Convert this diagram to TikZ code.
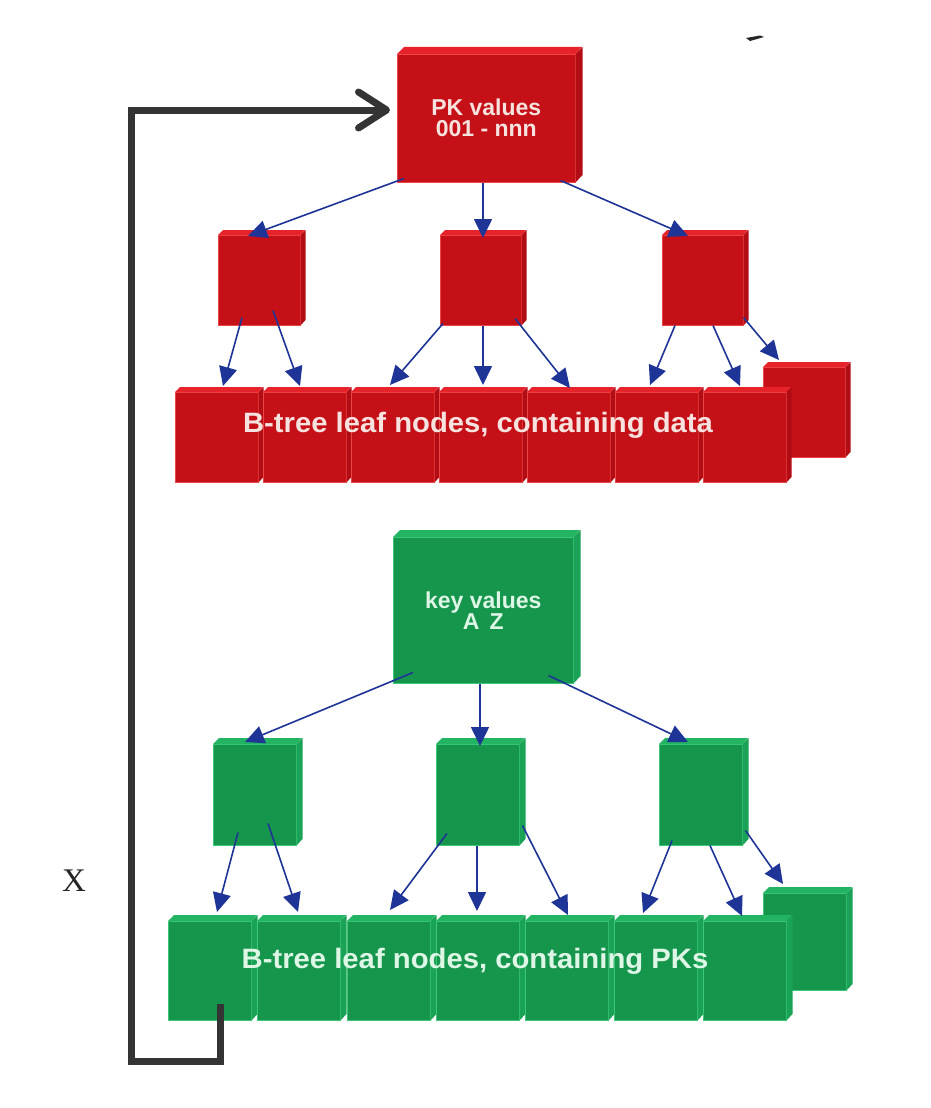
\documentclass[tikz,border=0pt]{standalone}
\usepackage{fontspec}
\setmainfont{Liberation Sans}
\newfontfamily\serifx{Liberation Serif}
\usetikzlibrary{arrows.meta}
\definecolor{redfront}{RGB}{198,16,24}
\definecolor{redtop}{RGB}{230,34,42}
\definecolor{redside}{RGB}{178,12,20}
\definecolor{redline}{RGB}{236,70,70}
\definecolor{redtxt}{RGB}{246,226,222}
\definecolor{greenfront}{RGB}{22,150,76}
\definecolor{greentop}{RGB}{34,180,98}
\definecolor{greenside}{RGB}{26,162,86}
\definecolor{greenline}{RGB}{60,200,120}
\definecolor{greentxt}{RGB}{222,246,230}
\definecolor{arrblue}{RGB}{30,52,150}
\definecolor{loopgray}{RGB}{52,52,52}
\tikzset{
  cube/.style={fill=#1front, draw=#1line, line width=0.5pt, inner sep=0pt,
    text=#1txt, font=\bfseries\fontsize{23}{21}\selectfont, align=center},
  arr/.style={draw=arrblue, line width=1.6pt, -{Triangle[length=19pt,width=18pt]}},
  looparrow/.style={draw=loopgray, line width=7pt, line join=miter,
    -{Straight Barb[length=28pt,width=36pt,line cap=round,line join=round]}},
  leaftext/.style={anchor=base, inner sep=0pt, font=\bfseries\fontsize{28}{30}\selectfont}
}
% #1 name, #2 x, #3 y (front top), #4 front width, #5 height, #6 depth, #7 colour, #8 text
\newcommand{\cubebox}[8]{%
  \node[cube=#7, minimum width=#4, minimum height=#5, anchor=north west] (#1) at (#2,#3) {#8};
  \fill[#7top] (#1.north west) -- ++(#6,-#6) -- ++(#4,0) -- (#1.north east) -- cycle;
  \fill[#7side] (#1.north east) -- ++(#6,-#6) -- ++(0,#5) -- (#1.south east) -- cycle;
}
\begin{document}
\begin{tikzpicture}[x=1pt,y=-1pt]
\fill[white] (0,0) rectangle (930,1108);
\useasboundingbox (0,0) rectangle (930,1108);

% ---------- red tree ----------
\cubebox{r0}{397}{54}{178}{128}{7}{red}{PK values\\001 - nnn}
\cubebox{r1}{218}{235}{82}{90}{5}{red}{}
\cubebox{r2}{440}{235}{81}{90}{5}{red}{}
\cubebox{r3}{662}{235}{81}{90}{5}{red}{}
\cubebox{rl8}{763}{367}{82}{90}{5}{red}{}
\cubebox{rl1}{175}{392}{83}{90}{5}{red}{}
\cubebox{rl2}{263}{392}{83}{90}{5}{red}{}
\cubebox{rl3}{351}{392}{83}{90}{5}{red}{}
\cubebox{rl4}{439}{392}{83}{90}{5}{red}{}
\cubebox{rl5}{527}{392}{83}{90}{5}{red}{}
\cubebox{rl6}{615}{392}{83}{90}{5}{red}{}
\cubebox{rl7}{703}{392}{83}{90}{5}{red}{}
\node[leaftext, text=redtxt] (rtext) at (478,432) {\scalebox{1.045}[1]{B-tree leaf nodes, containing data}};

\draw[arr] ([shift={(7,-4)}]r0.south west) -- ([shift={(30,1)}]r1.north west);
\draw[arr] ([shift={(86,0)}]r0.south west) -- ([shift={(43,3)}]r2.north west);
\draw[arr] ([shift={(-15,-2)}]r0.south east) -- ([shift={(26,1)}]r3.north west);
\draw[arr] ([shift={(24,-8)}]r1.south west) -- ([shift={(48,-6)}]rl1.north west);
\draw[arr] ([shift={(55,-15)}]r1.south west) -- ([shift={(37,-6)}]rl2.north west);
\draw[arr] ([shift={(3,-2)}]r2.south west) -- ([shift={(39,-7)}]rl3.north west);
\draw[arr] ([shift={(43,0)}]r2.south west) -- ([shift={(44,-7)}]rl4.north west);
\draw[arr] ([shift={(75,-7)}]r2.south west) -- ([shift={(43,-4)}]rl5.north west);
\draw[arr] ([shift={(13,0)}]r3.south west) -- ([shift={(35,-7)}]rl6.north west);
\draw[arr] ([shift={(51,0)}]r3.south west) -- ([shift={(37,-6)}]rl7.north west);
\draw[arr] ([shift={(0,-8)}]r3.south east) -- ([shift={(16,-7)}]rl8.north west);

% ---------- green tree ----------
\cubebox{g0}{393}{537}{180}{146}{7}{green}{key values\\A\hspace{0.45em}Z}
\cubebox{g1}{213}{744}{83}{101}{6}{green}{}
\cubebox{g2}{436}{744}{83}{101}{6}{green}{}
\cubebox{g3}{659}{744}{83}{101}{6}{green}{}
\cubebox{gl8}{763}{893}{83}{97}{6}{green}{}
\cubebox{gl1}{168}{921}{83}{99}{6}{green}{}
\cubebox{gl2}{257}{921}{83}{99}{6}{green}{}
\cubebox{gl3}{347}{921}{83}{99}{6}{green}{}
\cubebox{gl4}{436}{921}{83}{99}{6}{green}{}
\cubebox{gl5}{525}{921}{83}{99}{6}{green}{}
\cubebox{gl6}{614}{921}{83}{99}{6}{green}{}
\cubebox{gl7}{703}{921}{83}{99}{6}{green}{}
\node[leaftext, text=greentxt] (gtext) at (475,968) {\scalebox{1.045}[1]{B-tree leaf nodes, containing PKs}};

\draw[arr] ([shift={(20,-11)}]g0.south west) -- ([shift={(32,-2)}]g1.north west);
\draw[arr] ([shift={(87,0)}]g0.south west) -- ([shift={(44,2)}]g2.north west);
\draw[arr] ([shift={(-25,-8)}]g0.south east) -- ([shift={(29,-2)}]g3.north west);
\draw[arr] ([shift={(25,-13)}]g1.south west) -- ([shift={(49,-9)}]gl1.north west);
\draw[arr] ([shift={(55,-22)}]g1.south west) -- ([shift={(41,-9)}]gl2.north west);
\draw[arr] ([shift={(11,-12)}]g2.south west) -- ([shift={(43,-11)}]gl3.north west);
\draw[arr] ([shift={(41,0)}]g2.south west) -- ([shift={(41,-10)}]gl4.north west);
\draw[arr] ([shift={(3,-20)}]g2.south east) -- ([shift={(43,-6)}]gl5.north west);
\draw[arr] ([shift={(13,-5)}]g3.south west) -- ([shift={(29,-8)}]gl6.north west);
\draw[arr] ([shift={(51,0)}]g3.south west) -- ([shift={(39,-5)}]gl7.north west);
\draw[arr] ([shift={(3,-15)}]g3.south east) -- ([shift={(20,-9)}]gl8.north west);

% ---------- loop back to PK tree ----------
\draw[looparrow] ([shift={(52,-17)}]gl1.south west) -- ++(0,58) -- ++(-89,0)
  |- ([shift={(-7,56)}]r0.north west);

\node[font=\serifx\fontsize{33}{33}\selectfont, inner sep=0pt, text=black!85] (xlabel) at (74,881) {X};

% small stray mark at the top
\fill[black!85] (746,38) -- (760,35.5) -- (764,37) -- (750,41) -- cycle;
\end{tikzpicture}
\end{document}
